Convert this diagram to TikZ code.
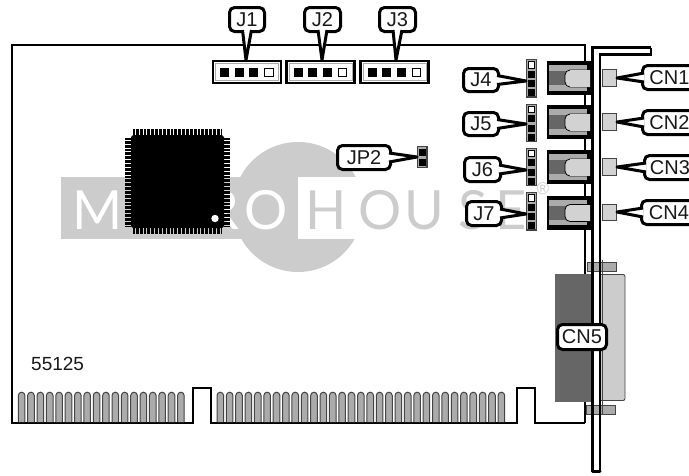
\documentclass[tikz,border=0pt]{standalone}
\usepackage{fontspec}
\setmainfont{Liberation Sans}
\newfontfamily\wmfont{Lato}
\usetikzlibrary{calc}
\definecolor{wm}{HTML}{CCCCCC}
\definecolor{dk}{HTML}{666666}
\definecolor{md}{HTML}{ABABAB}
\definecolor{lt}{HTML}{D2D2D2}
\definecolor{ed}{HTML}{444444}
\tikzset{
  lbl/.style={draw=black,fill=white,line width=3pt,rounded corners=5pt,inner sep=0pt,outer sep=0pt,
    text=black!90,font=\fontsize{20}{22}\selectfont},
  tail/.style={draw=black,fill=white,line width=3pt,line join=round},
  wmletter/.style={anchor=base,inner sep=0pt,font=\wmfont\fontsize{54}{56}\selectfont},
  brd/.style={draw=black,line width=2pt},
  finger/.style={draw=ed,fill=md,line width=1pt},
  pinrow/.style={black,line width=6pt,dash pattern=on .85pt off .5pt},
  greypart/.style={draw=ed,line width=.9pt}
}
\newcommand\lblbox[6]{%
  \pgfmathsetmacro\lblcx{(#2+#4)/2}\pgfmathsetmacro\lblcy{(#3+#5)/2}%
  \pgfmathsetmacro\lblw{#4-#2-3}\pgfmathsetmacro\lblh{#5-#3-3}%
  \node[lbl,minimum width=\lblw pt,minimum height=\lblh pt] (#1) at (\lblcx,\lblcy) {#6};}
\newcommand\tailE[3]{\coordinate (#1tip) at (#2,#3);
  \draw[tail] ($(#1.east)+(-1.5,-4.5)$) -- (#1tip) -- ($(#1.east)+(-1.5,4.5)$);}
\newcommand\tailW[3]{\coordinate (#1tip) at (#2,#3);
  \draw[tail] ($(#1.west)+(1.5,-4.5)$) -- (#1tip) -- ($(#1.west)+(1.5,4.5)$);}
\newcommand\tailS[3]{\coordinate (#1tip) at (#2,#3);
  \draw[tail] ($(#1.south)+(-4.5,-1.5)$) -- (#1tip) -- ($(#1.south)+(4.5,-1.5)$);}
\newcommand\hhdr[1]{%
  \draw[black,fill=white,line width=2.5pt] (#1+1.2,61.2) rectangle (#1+68.8,83);
  \draw[draw=md,fill=white,line width=1pt] (#1+3.5,63.5) rectangle (#1+66.5,80.7);
  \foreach \k in {0,1,2}{\fill[black] (#1+8+14.7*\k,68) rectangle ++(9,9);}
  \draw[draw=black,fill=white,line width=.9pt] (#1+52.6,68.4) rectangle ++(8.4,8.4);}
\newcommand\vhdr[1]{%
  \draw[draw=ed,fill=md,line width=1.2pt] (526.6,#1+.6) rectangle (536.6,#1+38);
  \draw[draw=black,fill=white,line width=.8pt] (528.4,#1+2.8) rectangle ++(6.2,6.2);
  \foreach \k in {1,2,3}{\fill[black] (528,#1+2.4+9.3*\k) rectangle ++(7,7);}}
\newcommand\jack[1]{%
  \fill[black] (547,#1) rectangle (594,#1+34);
  \fill[md] (548.5,#1+4) rectangle (587,#1+29.5);
  \fill[dk] (548.5,#1+10) rectangle (566,#1+24);
  \draw[draw=black,fill=lt,line width=.8pt,rounded corners=2pt] (590,#1+9) -- (568,#1+9) -- (565,#1+12) -- (565,#1+23) -- (568,#1+26) -- (590,#1+26);
  \fill[lt] (570,#1+9.4) rectangle (590,#1+25.6);
  \draw[greypart,fill=lt] (602,#1+8.5) rectangle (616,#1+25);}
\begin{document}
\begin{tikzpicture}[x=1pt,y=-1pt]
\useasboundingbox (0,0) rectangle (689,475);
\clip (0,0) rectangle (689,475);
\fill[white] (0,0) rectangle (689,475);
% watermark
\fill[wm] (298,207) circle (65);
\fill[wm] (61,177) rectangle (298,239);
\fill[white] (298,177) rectangle (375,239);
\node[wmletter,text=white] (wmM) at (98,229) {M};
\node[wmletter,text=white] (wmI) at (145,229) {I};
\node[wmletter,text=white] (wmC) at (178,229) {C};
\node[wmletter,text=white] (wmR) at (222,229) {R};
\node[wmletter,text=white] (wmO) at (266,229) {O};
\node[wmletter,text=wm] (wmH) at (326,229) {H};
\node[wmletter,text=wm] (wmOb) at (380,229) {O};
\node[wmletter,text=wm] (wmU) at (424,229) {U};
\node[wmletter,text=wm] (wmS) at (473,229) {S};
\node[wmletter,text=wm] (wmE) at (511,229) {E};
\node[text=wm,inner sep=0pt,font=\fontsize{17}{18}\selectfont] (wmReg) at (543,188.5) {®};
% board
\draw[brd] (585,423) -- (535,423) -- (535,387.5) -- (516.5,387.5) -- (516.5,423) -- (210.5,423) -- (210.5,387.5) -- (193,387.5) -- (193,423) -- (11.5,423) -- (11.5,45) -- (585,45) -- (585,423);
% gold fingers
\foreach \i in {0,...,17}{
  \pgfmathsetmacro\fx{18.3+9.37*\i}
  \draw[finger] (\fx,422) -- (\fx,395.5) arc[start angle=180,end angle=360,radius=3.3] -- (\fx+6.6,422);}
\foreach \i in {0,...,30}{
  \pgfmathsetmacro\fx{217+9.37*\i}
  \draw[finger] (\fx,422) -- (\fx,395.5) arc[start angle=180,end angle=360,radius=3.3] -- (\fx+6.6,422);}
% chip
\fill[black] (133,135) -- (222,135) -- (224,137) -- (224,226) -- (222,228) -- (133,228) -- (131,226) -- (131,137) -- cycle;
\draw[pinrow] (133,132) -- (222,132);
\draw[pinrow] (133,231) -- (222,231);
\draw[pinrow] (128,138) -- (128,226);
\draw[pinrow] (227,138) -- (227,226);
\fill[white] (215,218.5) circle (3.7);
% headers
\hhdr{212}\hhdr{285.5}\hhdr{359.5}
\vhdr{59}\vhdr{103.5}\vhdr{147.5}\vhdr{192}
\draw[draw=ed,fill=md,line width=1.2pt] (417.6,146.6) rectangle (427,167.5);
\fill[black] (419,148.5) rectangle ++(7,7.5);
\fill[black] (419,158.5) rectangle ++(7,7.5);
% DB connector
\draw[draw=ed,fill=md,line width=.9pt] (587.5,262.5) rectangle (616,271);
\draw[draw=ed,fill=md,line width=.9pt] (586.5,405.5) rectangle (615,414);
\fill[dk] (555,274) rectangle (592,402);
\draw[draw=ed,fill=wm,line width=.9pt,rounded corners=2pt] (600,274.5) -- (625,274.5) -- (625,400.5) -- (600,400.5);
% jacks
\jack{61}\jack{105}\jack{150}\jack{195.5}
% bracket
\draw[black,line width=3pt] (592.5,472) -- (592.5,47.5) -- (650.5,47.5);
\draw[black,line width=2pt] (650.5,47.5) -- (650.5,54);
\draw[black,line width=2.8pt] (651.5,54.5) -- (600,54.5) -- (600,472);
\draw[black,line width=3pt,line cap=round] (592.5,471.5) -- (600,471.5);
\draw[draw=ed,line width=1pt] (602.6,259.5) -- (602.6,415);
% labels
\lblbox{J1}{228}{6}{266}{33}{J1}\tailS{J1}{246}{60}
\lblbox{J2}{303}{6}{342}{33}{J2}\tailS{J2}{322}{60}
\lblbox{J3}{378}{6}{417}{33}{J3}\tailS{J3}{396}{60}
\lblbox{J4}{462}{67}{500}{93}{J4}\tailE{J4}{526}{81}
\lblbox{J5}{462}{111}{500}{137}{J5}\tailE{J5}{526}{124}
\lblbox{J6}{463}{156}{502}{183}{J6}\tailE{J6}{526}{170}
\lblbox{J7}{465}{200}{503}{227}{J7}\tailE{J7}{526}{214}
\lblbox{JP2}{336}{144}{392}{171}{JP2}\tailE{JP2}{417}{157}
\lblbox{CN1}{641}{64}{698}{91}{CN1}\tailW{CN1}{617}{78}
\lblbox{CN2}{641}{109}{698}{136}{CN2}\tailW{CN2}{617}{122}
\lblbox{CN3}{643}{154}{697}{181}{CN3}\tailW{CN3}{617}{167}
\lblbox{CN4}{640}{199}{698}{226}{CN4}\tailW{CN4}{617}{212}
\lblbox{CN5}{556}{323}{608}{351}{CN5}
\node[anchor=base west,inner sep=0pt,text=black!90,font=\fontsize{19}{20}\selectfont] (num) at (31,370) {55125};
\end{tikzpicture}
\end{document}
